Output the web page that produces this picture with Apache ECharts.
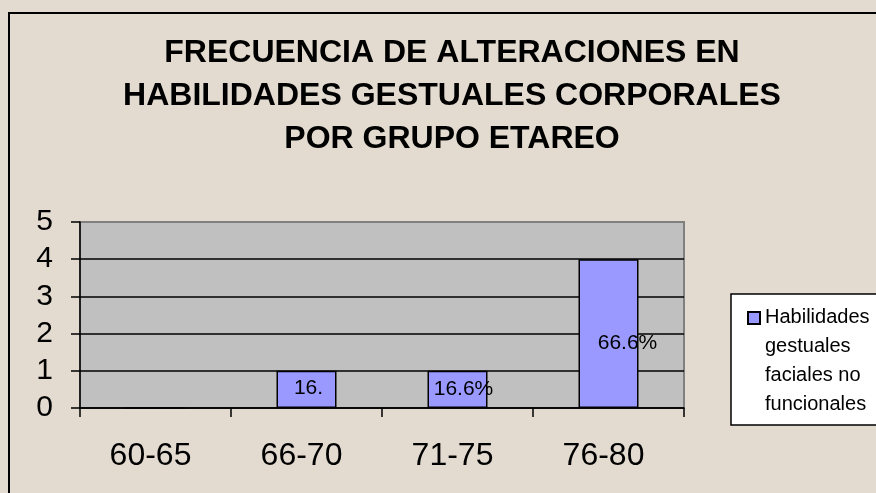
<!DOCTYPE html>
<html>
<head>
<meta charset="utf-8">
<script src="https://cdn.jsdelivr.net/npm/echarts@6/dist/echarts.min.js"></script>
<style>
  html, body { margin: 0; padding: 0; background: #e3dbd0; }
  #main { width: 876px; height: 493px; }
</style>
</head>
<body>
<div id="main"></div>
<script>
var categories = ['60-65', '66-70', '71-75', '76-80'];
var values = [0, 1, 1, 4];
var barLabels = ['', '16.', '16.6%', '66.6%'];
var yTicks = [0, 1, 2, 3, 4, 5];
var seriesName = 'Habilidades\ngestuales\nfaciales no\nfuncionales';
var titleText = 'FRECUENCIA DE ALTERACIONES EN\nHABILIDADES GESTUALES CORPORALES\nPOR GRUPO ETAREO';

// the labels in the original sit a bit off-centre
var labelShift = [[0, 0], [2, -1], [6, 0], [19, 10]];

var myChart = echarts.init(document.getElementById('main'));

myChart.setOption({
    backgroundColor: '#e3dbd0',
    animation: false,
    title: {
        text: titleText,
        left: 447,
        textAlign: 'center',
        top: 27,
        textStyle: {
            fontFamily: 'Liberation Sans, Arial',
            fontSize: 32,
            fontWeight: 'bold',
            lineHeight: 43,
            color: '#000'
        }
    },
    graphic: [{
        // outer chart frame
        type: 'rect',
        shape: { x: 9, y: 13, width: 900, height: 520 },
        style: { fill: 'none', stroke: '#000', lineWidth: 2 },
        silent: true
    }],
    legend: {
        left: 731,
        top: 294,
        orient: 'vertical',
        padding: [8, 10, 5, 16],
        backgroundColor: '#fff',
        borderColor: '#000',
        borderWidth: 1.5,
        borderRadius: 0,
        itemWidth: 12,
        itemHeight: 116,
        itemGap: 0,
        icon: 'path://M0,9 L12,9 L12,21 L0,21 Z M0,0 L0,0 M0,116 L0,116',
        textStyle: {
            fontFamily: 'Liberation Sans, Arial',
            fontSize: 20,
            lineHeight: 29,
            color: '#000'
        },
        data: [seriesName]
    },
    grid: {
        left: 80,
        top: 222,
        width: 604,
        height: 186,
        show: true,
        backgroundColor: '#c0c0c0',
        borderColor: '#808080',
        borderWidth: 2
    },
    xAxis: {
        type: 'category',
        data: categories,
        axisLine: { lineStyle: { color: '#000', width: 1.5 } },
        axisTick: { show: true, length: 9, inside: false, lineStyle: { color: '#000', width: 1.5 } },
        axisLabel: {
            margin: 32,
            padding: [0, 10, 0, 0],
            fontFamily: 'Liberation Sans, Arial',
            fontSize: 32,
            color: '#000'
        }
    },
    yAxis: {
        type: 'value',
        min: yTicks[0],
        max: yTicks[yTicks.length - 1],
        interval: 1,
        axisLine: { show: true, lineStyle: { color: '#000', width: 1.5 } },
        axisTick: { show: true, length: 9, lineStyle: { color: '#000', width: 1.5 } },
        axisLabel: {
            margin: 27,
            fontFamily: 'Liberation Sans, Arial',
            fontSize: 30,
            color: '#000'
        },
        splitLine: {
            show: true,
            lineStyle: { color: ['#000', '#000', '#000', '#000', '#000', '#808080'], width: 1.5 }
        }
    },
    series: [{
        name: seriesName,
        type: 'bar',
        data: values.map(function (v, i) {
            return { value: v, label: { offset: labelShift[i] } };
        }),
        barWidth: 60,
        itemStyle: { color: '#9999ff', borderColor: '#000', borderWidth: 1.5 },
        label: {
            show: true,
            position: 'inside',
            fontFamily: 'Liberation Sans, Arial',
            fontSize: 21,
            color: '#000',
            formatter: function (p) { return barLabels[p.dataIndex]; }
        }
    }]
});
</script>
</body>
</html>
